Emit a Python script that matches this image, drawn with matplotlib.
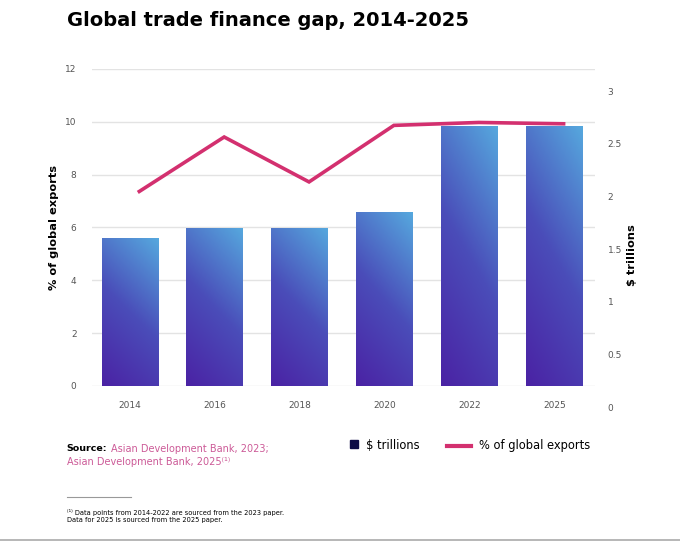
import numpy as np
import matplotlib.pyplot as plt
from matplotlib.colors import LinearSegmentedColormap
from matplotlib.lines import Line2D

years = ['2014', '2016', '2018', '2020', '2022', '2025']
gap_trillions = [1.60, 1.70, 1.70, 1.85, 2.67, 2.67]
pct_exports = [7.36, 9.42, 7.72, 9.86, 9.97, 9.92]

PINK = '#d3306f'
NAVY = '#0c0a45'
GRID = '#e3e3e3'
TICK = '#555555'

plt.rcParams['font.family'] = ['DejaVu Sans']

fig = plt.figure(figsize=(6.8, 5.42), dpi=100)
ax = fig.add_axes([0.135, 0.288, 0.740, 0.585])
x = np.arange(len(years))

# left axis: % of global exports
ax.set_ylim(0, 12)
ax.set_xlim(-0.45, len(years) - 0.52)
ax.set_yticks(range(0, 13, 2))
ax.grid(axis='y', color=GRID, lw=1)
ax.set_axisbelow(True)
for s in ax.spines.values():
    s.set_visible(False)
ax.tick_params(axis='both', length=0, labelsize=6.5, colors=TICK)
ax.tick_params(axis='y', pad=11)
ax.tick_params(axis='x', pad=11)
ax.set_xticks(x)
ax.set_xticklabels(years)
ax.set_ylabel('% of global exports', fontsize=8.2, fontweight='bold', labelpad=4)

# bars in $ trillions on a twin axis
ax2 = ax.twinx()
ax2.set_ylim(0.2, 3.21)
ax2.set_yticks([])
for s in ax2.spines.values():
    s.set_visible(False)
bars = ax2.bar(x, gap_trillions, width=0.67, color='none', zorder=2)
cmap = LinearSegmentedColormap.from_list('g', ['#4b22a4', '#4a4db9', '#56a8de'])
yy, xx = np.mgrid[0:1:200j, 0:1:60j]
grad = 0.8 * yy + 0.3 * xx
ylo = 0.2
for b in bars:
    x0, w, h = b.get_x(), b.get_width(), b.get_height()
    im = ax2.imshow(grad, cmap=cmap, vmin=0, vmax=1.1, origin='lower',
                    extent=[x0, x0 + w, ylo, h], aspect='auto', zorder=2)
    im.set_clip_path(b)
ax2.set_xlim(ax.get_xlim())
ax2.set_ylim(ylo, 3.21)

# line on top
ax3 = ax.twinx()
ax3.set_ylim(0, 12)
ax3.axis('off')
ax3.plot(x + 0.11, pct_exports, color=PINK, lw=2.6, solid_joinstyle='miter', zorder=5)
ax3.set_xlim(ax.get_xlim())

# right tick labels, sitting lower than the plot box
axr = fig.add_axes([0.135, 0.249, 0.740, 0.585])
axr.patch.set_visible(False)
axr.set_ylim(0, 3.01)
axr.set_xticks([])
for s in axr.spines.values():
    s.set_visible(False)
axr.yaxis.tick_right()
axr.set_yticks([0, 0.5, 1, 1.5, 2, 2.5, 3])
axr.set_yticklabels(['0', '0.5', '1', '1.5', '2', '2.5', '3'])
axr.tick_params(axis='y', length=0, labelsize=6.5, colors=TICK, pad=9)
fig.text(0.930, 0.53, '$ trillions', rotation=90, fontsize=8.2, fontweight='bold',
         ha='center', va='center')

fig.text(0.099, 0.962, 'Global trade finance gap, 2014-2025', fontsize=14,
         fontweight='bold', ha='left', va='center')

# legend, drawn by hand
ly = 0.178
fig.add_artist(Line2D([0.520], [ly + 0.002], marker='s', markersize=5.5, color=NAVY, lw=0))
fig.text(0.538, ly, '$ trillions', fontsize=8.3, va='center')
fig.add_artist(Line2D([0.657, 0.693], [ly, ly], color=PINK, lw=3))
fig.text(0.705, ly, '% of global exports', fontsize=8.3, va='center')

# source and footnote
fig.text(0.098, 0.172, 'Source:', fontsize=6.8, fontweight='bold', va='center')
fig.text(0.163, 0.172, 'Asian Development Bank, 2023;', fontsize=7, color='#cc5a97', va='center')
fig.text(0.098, 0.148, 'Asian Development Bank, 2025\u207d\u00b9\u207e', fontsize=7,
         color='#cc5a97', va='center')
fig.add_artist(Line2D([0.098, 0.192], [0.083, 0.083], color='#999999', lw=0.8))
fig.text(0.098, 0.055, '\u207d\u00b9\u207e Data points from 2014-2022 are sourced from the 2023 paper.',
         fontsize=4.8, va='center')
fig.text(0.098, 0.040, 'Data for 2025 is sourced from the 2025 paper.', fontsize=4.8, va='center')
fig.add_artist(Line2D([0, 1], [0.003, 0.003], color='#aaaaaa', lw=1.2))

fig.savefig('out.png', dpi=100)
